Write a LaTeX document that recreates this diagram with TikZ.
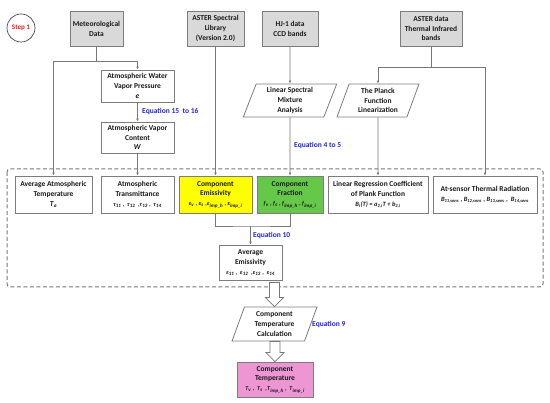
\documentclass[tikz,border=0pt]{standalone}
\usepackage{fontspec}
\setmainfont{Carlito}
\usetikzlibrary{arrows.meta,shapes.geometric,shadows,calc}
\definecolor{boxline}{RGB}{125,125,125}
\definecolor{conn}{RGB}{120,120,120}
\definecolor{txt}{RGB}{25,25,25}
\definecolor{graybox}{RGB}{217,217,217}
\definecolor{ybox}{RGB}{255,255,0}
\definecolor{gbox}{RGB}{102,200,72}
\definecolor{pbox}{RGB}{238,150,212}
\definecolor{eqblue}{RGB}{35,35,225}
\definecolor{stepred}{RGB}{220,30,30}
\newcommand\vsub[2]{\textit{#1}\textsubscript{\textit{#2}}}
\begin{document}
\begin{tikzpicture}[x=1pt,y=-1pt,
  every node/.style={font=\fontsize{7.5}{9.8}\selectfont\bfseries, text=txt, align=center, inner sep=1pt},
  box/.style={draw=boxline, line width=0.8pt, fill=white, rectangle},
  topbox/.style={box, fill=graybox, minimum height=35pt,
    drop shadow={shadow xshift=1.2pt, shadow yshift=-1.2pt, fill=black!55, opacity=1}},
  para/.style={draw=boxline, line width=0.8pt, fill=white, trapezium,
    trapezium left angle=72, trapezium right angle=108, trapezium stretches=true},
  conline/.style={draw=conn, line width=0.8pt},
  arr/.style={conline, -{Latex[length=3pt,width=2.6pt,fill=black!80]}},
  eq/.style={text=eqblue, anchor=west, font=\fontsize{7.5}{9}\selectfont\bfseries},
  small/.style={font=\fontsize{6}{7}\selectfont\bfseries},
  hollow/.style={draw=conn, line width=0.8pt, fill=white, line join=miter}]
\useasboundingbox (0,0) rectangle (550,403);

% dashed group
\draw[draw=conn, line width=1pt, dash pattern=on 4pt off 2.5pt, rounded corners=3pt] (7,169) rectangle (543,287);

% step circle
\node[circle, draw=txt!80, line width=0.7pt, minimum size=28pt, text=stepred, font=\fontsize{7}{8}\selectfont\bfseries] (step) at (21,28) {Step 1};

% top sources
\node[topbox, minimum width=53pt] (met) at (96.5,28.5) {Meteorological\\Data};
\node[topbox, minimum width=57pt] (aster) at (215.5,28.5) {ASTER Spectral\\Library\\(Version 2.0)};
\node[topbox, minimum width=56pt] (hj) at (290,28.5) {HJ-1 data\\CCD bands};
\node[topbox, minimum width=62pt] (at) at (431,28.5) {ASTER data\\Thermal Infrared\\bands};

% intermediate
\node[box, minimum width=73pt, minimum height=32pt] (wvp) at (137.5,86) {Atmospheric Water\\Vapor Pressure\\\textit{e}};
\node[box, minimum width=73pt, minimum height=31pt] (wvc) at (137.5,137.5) {Atmospheric Vapor\\Content\\\textit{W}};
\node[para, minimum width=94pt, minimum height=33pt] (lsm) at (290,100.5) {Linear Spectral\\Mixture\\Analysis};
\node[para, minimum width=82pt, minimum height=33pt] (pf) at (378,100.5) {The Planck\\Function\\Linearization};

% row inside dashed box
\node[box, minimum width=77pt, minimum height=37pt] (ta) at (53.5,194.5) {Average Atmospheric\\Temperature\\\vsub{T}{a}};
\node[box, minimum width=73pt, minimum height=37pt] (tr) at (137.5,194.5) {Atmospheric\\Transmittance\\{\fontsize{6}{7}\selectfont \vsub{τ}{11} ,\ \ \vsub{τ}{12} \ ,\vsub{τ}{13} ,\ \ \vsub{τ}{14}}};
\node[box, fill=ybox, minimum width=73pt, minimum height=37pt] (ce) at (215.5,194.5) {Component\\Emissivity\\{\fontsize{6}{7}\selectfont \vsub{ε}{v} ,\ \vsub{ε}{s} ,\vsub{ε}{imp\_h} ,\ \vsub{ε}{imp\_i}}};
\node[box, fill=gbox, minimum width=66pt, minimum height=37pt] (cf) at (290,194.5) {Component\\Fraction\\{\fontsize{6}{7}\selectfont \vsub{f}{v} ,\ \vsub{f}{s} ,\ \vsub{f}{imp\_h} ,\ \vsub{f}{imp\_i}}};
\node[box, minimum width=100pt, minimum height=37pt] (lr) at (378,194.5) {Linear Regression Coefficient\\of Plank Function\\{\fontsize{6.5}{7}\selectfont \vsub{B}{i}\textit{(T) = }\vsub{a}{2,i}\textit{T + }\vsub{b}{2,i}}};
\node[box, minimum width=104pt, minimum height=37pt] (as) at (485,194.5) {At-sensor Thermal Radiation\\{\fontsize{6.5}{7}\selectfont \vsub{B}{11,sens} , \vsub{B}{12,sens} , \vsub{B}{13,sens} ,\ \ \vsub{B}{14,sens}}};

\node[box, minimum width=63pt, minimum height=35pt] (ae) at (250.5,262.5) {Average\\Emissivity\\{\fontsize{6}{7}\selectfont \vsub{ε}{11} ,\ \ \vsub{ε}{12} \ ,\vsub{ε}{13} ,\ \ \vsub{ε}{14}}};

% lower chain
\node[para, minimum width=85pt, minimum height=34pt] (cc) at (274.5,324) {Component\\Temperature\\Calculation};
\node[box, fill=pbox, minimum width=76pt, minimum height=35pt] (ct) at (275,379.5) {Component\\Temperature\\{\fontsize{6}{7}\selectfont \vsub{T}{v} ,\ \ \vsub{T}{s} \ ,\vsub{T}{imp\_h} ,\ \ \vsub{T}{imp\_i}}};

% equation labels
\node[eq] (eq1) at (141,111) {Equation 15\ \ to 16};
\node[eq] (eq2) at (293,145) {Equation 4 to 5};
\node[eq] (eq3) at (252,235) {Equation 10};
\node[eq] (eq4) at (311,324) {Equation 9};

% connectors
\coordinate (j1) at (96.5,61);
\draw[conline] (met.south) -- (j1);
\draw[arr] (j1) -| (wvp.north);
\draw[arr] (j1) -| (ta.north);
\draw[arr] (wvp.south) -- (wvc.north);
\draw[arr] (wvc.south) -- (tr.north);
\draw[arr] (aster.south) -- (ce.north);
\draw[arr] (hj.south) -- (lsm.north);
\draw[arr] (lsm.south) -- (cf.north);
\coordinate (j2) at (431,67);
\draw[conline] (at.south) -- (j2);
\draw[arr] (j2) -| (pf.north);
\draw[arr] (j2) -| (as.north);
\draw[arr] (pf.south) -- (lr.north);
\coordinate (j3) at (250.5,226);
\draw[conline] (ce.south) |- (j3) -| (cf.south);
\draw[arr] (j3) -- (ae.north);

% hollow arrows
\draw[hollow] let \p1=(ae.south), \p2=(cc.north) in
  ({\x2-5pt},{\y1-2pt}) -- ({\x2+5pt},{\y1-2pt}) -- ({\x2+5pt},{\y2+9pt}) -- ({\x2+9pt},{\y2+9pt})
  -- (\x2,\y2) -- ({\x2-9pt},{\y2+9pt}) -- ({\x2-5pt},{\y2+9pt}) -- cycle;
\draw[hollow] let \p1=(cc.south), \p2=(ct.north) in
  ({\x2-5pt},\y1) -- ({\x2+5pt},\y1) -- ({\x2+5pt},{\y2+9pt}) -- ({\x2+9pt},{\y2+9pt})
  -- (\x2,\y2) -- ({\x2-9pt},{\y2+9pt}) -- ({\x2-5pt},{\y2+9pt}) -- cycle;
\end{tikzpicture}
\end{document}
